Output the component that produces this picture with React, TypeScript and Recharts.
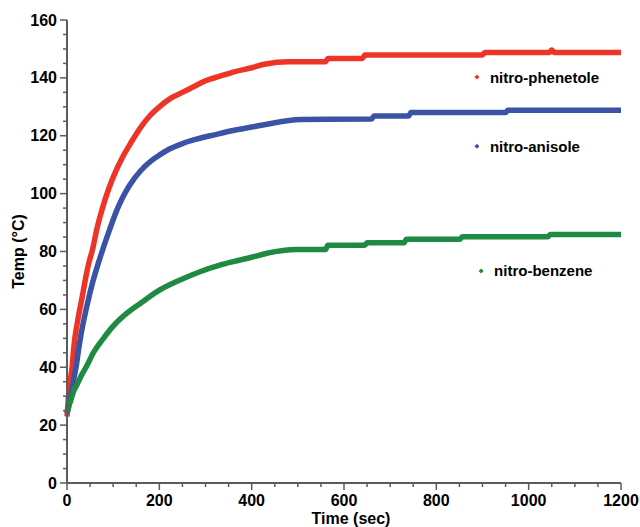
import { LineChart, Line, XAxis, YAxis, ReferenceDot } from "recharts";

const phenetoleTime = [0, 2, 4, 6, 9, 11, 14, 17, 22, 27, 32, 40, 48, 55, 65, 75, 90, 105, 120, 140, 160, 180, 200, 225, 250, 275, 300, 330, 360, 400, 430, 480, 560, 565, 640, 645, 900, 905, 1045, 1050, 1055, 1200];
const phenetoleTemp = [23, 27, 31.5, 34.5, 37.5, 40, 45.5, 50, 55, 59.5, 63.5, 70.5, 76.5, 80.5, 88, 94, 101.5, 107.5, 112.5, 118, 123, 127, 130, 133, 135, 137, 139, 140.5, 142, 143.5, 144.8, 145.6, 145.6, 146.7, 146.7, 147.9, 147.9, 148.8, 148.8, 149.6, 148.8, 148.8];

const anisoleTime = [0, 4, 8, 12, 16, 21, 25, 30, 38, 46, 55, 65, 77, 90, 108, 120, 136, 160, 183, 200, 223, 250, 280, 324, 360, 400, 433, 505, 660, 665, 740, 745, 950, 955, 1200];
const anisoleTemp = [24, 26.5, 29.8, 33.5, 37, 41.4, 46, 51, 57.5, 63.2, 69, 74.5, 80.5, 86.5, 94.3, 98.5, 103, 108, 111.4, 113.3, 115.5, 117.3, 118.8, 120.5, 121.8, 123, 124, 125.6, 125.8, 126.8, 126.8, 128, 128, 128.8, 128.8];

const benzeneTime = [0, 3, 8, 14, 21, 30, 43, 57, 79, 100, 129, 160, 201, 250, 288, 331, 360, 400, 433, 497, 560, 565, 645, 650, 730, 735, 851, 856, 1042, 1047, 1200];
const benzeneTemp = [24.6, 26.4, 28.5, 31.5, 33.8, 36.8, 40.5, 45, 50, 54.2, 58.6, 62.2, 66.7, 70.5, 73, 75.3, 76.5, 78, 79.4, 80.7, 80.7, 82.2, 82.2, 83, 83, 84.2, 84.2, 85.1, 85.1, 85.9, 85.9];

const seriesNames = ["nitro-phenetole", "nitro-anisole", "nitro-benzene"];
const seriesColors = ["#ee3427", "#3a53a5", "#1f8a42"];

const xTicks = [0, 50, 100, 150, 200, 250, 300, 350, 400, 450, 500, 550, 600, 650, 700, 750, 800, 850, 900, 950, 1000, 1050, 1100, 1150, 1200];
const xLabels = [0, 200, 400, 600, 800, 1000, 1200];
const yTicks = [0, 5, 10, 15, 20, 25, 30, 35, 40, 45, 50, 55, 60, 65, 70, 75, 80, 85, 90, 95, 100, 105, 110, 115, 120, 125, 130, 135, 140, 145, 150, 155, 160];
const yLabels = [0, 20, 40, 60, 80, 100, 120, 140, 160];

// where the in-plot labels sit, in data units
const labelSpots = [
  { t: 888, v: 140.3 },
  { t: 888, v: 116.4 },
  { t: 897, v: 73.3 },
];

const FONT = "'Liberation Sans', Arial, Helvetica, sans-serif";
const AXIS = "#5c5c5c";

const toRows = (ts: number[], vs: number[]) => ts.map((t, i) => ({ t, v: vs[i] }));
const series = [
  toRows(phenetoleTime, phenetoleTemp),
  toRows(anisoleTime, anisoleTemp),
  toRows(benzeneTime, benzeneTemp),
];

function XTick({ x, y, payload }: any) {
  const major = xLabels.includes(payload.value);
  return (
    <g>
      <line x1={x} x2={x} y1={y} y2={y + (major ? 7 : 4)} stroke={AXIS} strokeWidth={1.5} />
      {major && (
        <text x={x} y={y + 17} textAnchor="middle" dominantBaseline="central" fontFamily={FONT} fontWeight="bold" fontSize={16} fill="#000">
          {payload.value}
        </text>
      )}
    </g>
  );
}

function YTick({ x, y, payload }: any) {
  const major = yLabels.includes(payload.value);
  return (
    <g>
      <line x1={x - (major ? 7 : 4)} x2={x} y1={y} y2={y} stroke={AXIS} strokeWidth={1.5} />
      {major && (
        <text x={x - 10} y={y} textAnchor="end" dominantBaseline="central" fontFamily={FONT} fontWeight="bold" fontSize={16} fill="#000">
          {payload.value}
        </text>
      )}
    </g>
  );
}

function Tag({ cx, cy, color, name }: any) {
  return (
    <g>
      <path d={`M${cx} ${cy - 2.5} L${cx + 2.5} ${cy} L${cx} ${cy + 2.5} L${cx - 2.5} ${cy} Z`} fill={color} />
      <text x={cx + 13} y={cy} dominantBaseline="central" fontFamily={FONT} fontWeight="bold" fontSize={15} fill="#000">
        {name}
      </text>
    </g>
  );
}

export default function App() {
  return (
    <div style={{ position: "absolute", left: 0, top: 0, width: 640, height: 527, background: "#fff" }}>
      <LineChart width={640} height={527} margin={{ top: 20, right: 19, left: 0, bottom: 0 }}>
        <XAxis
          dataKey="t"
          type="number"
          domain={[0, 1200]}
          ticks={xTicks}
          interval={0}
          height={44}
          tickSize={0}
          tickMargin={0}
          tickLine={false}
          axisLine={{ stroke: AXIS, strokeWidth: 2 }}
          tick={(p: any) => <XTick {...p} />}
          label={{
            content: ({ viewBox }: any) => (
              <text x={viewBox.x + viewBox.width / 2 + 7} y={518} textAnchor="middle" dominantBaseline="central" fontFamily={FONT} fontWeight="bold" fontSize={16} fill="#000">
                Time (sec)
              </text>
            ),
          }}
        />
        <YAxis
          dataKey="v"
          type="number"
          domain={[0, 160]}
          ticks={yTicks}
          interval={0}
          width={67}
          tickSize={0}
          tickMargin={0}
          tickLine={false}
          axisLine={{ stroke: AXIS, strokeWidth: 2 }}
          tick={(p: any) => <YTick {...p} />}
          label={{
            content: ({ viewBox }: any) => {
              const cy = viewBox.y + viewBox.height / 2;
              return (
                <text transform={`translate(18, ${cy}) rotate(-90)`} textAnchor="middle" dominantBaseline="central" fontFamily={FONT} fontWeight="bold" fontSize={16} fill="#000">
                  Temp (°C)
                </text>
              );
            },
          }}
        />
        {series.map((rows, i) => (
          <Line
            key={seriesNames[i]}
            data={rows}
            dataKey="v"
            type="monotone"
            stroke={seriesColors[i]}
            strokeWidth={5.5}
            strokeLinejoin="round"
            dot={false}
            activeDot={false}
            isAnimationActive={false}
          />
        ))}
        {labelSpots.map((s, i) => (
          <ReferenceDot
            key={seriesNames[i]}
            x={s.t}
            y={s.v}
            r={0}
            shape={(p: any) => <Tag cx={p.cx} cy={p.cy} color={seriesColors[i]} name={seriesNames[i]} />}
          />
        ))}
      </LineChart>
    </div>
  );
}
